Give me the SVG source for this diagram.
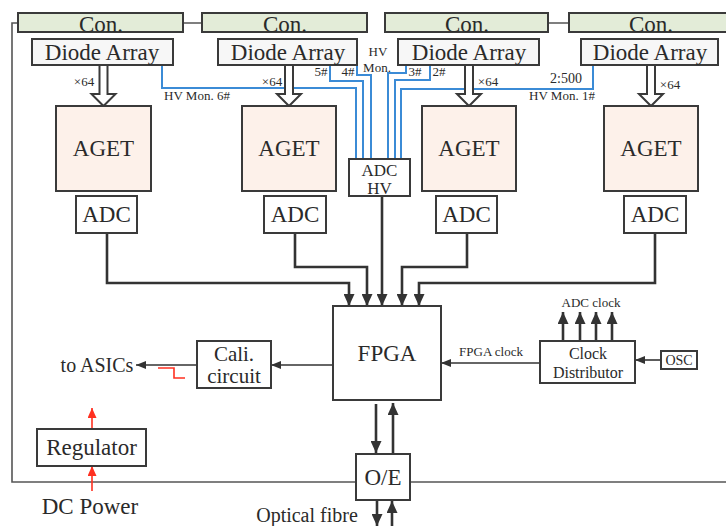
<svg xmlns="http://www.w3.org/2000/svg" width="726" height="526" viewBox="0 0 726 526" font-family="Liberation Serif, Times New Roman, DejaVu Serif, serif">
<style>
text{font-family:"Liberation Serif","Times New Roman","DejaVu Serif",serif;fill:#2a2a2a;text-anchor:middle}
.con{fill:#e3ecd8;stroke:#3a3a3a;stroke-width:2}
.dio{fill:#f7f7f7;stroke:#3a3a3a;stroke-width:2}
.aget{fill:#fdf1ea;stroke:#3a3a3a;stroke-width:2}
.box{fill:#ffffff;stroke:#3a3a3a;stroke-width:2}
.hol{fill:#ffffff;stroke:#3a3a3a;stroke-width:2;stroke-linejoin:miter}
.blue{fill:none;stroke:#3b8bd6;stroke-width:2}
.thick{fill:none;stroke:#333;stroke-width:2.6}
.thin{fill:none;stroke:#333;stroke-width:1.6}
.gray{fill:none;stroke:#555;stroke-width:1.6}
.red{fill:none;stroke:#ff3020;stroke-width:1.6}
.t23{font-size:23px}.t13{font-size:13px}
</style>
<defs>
<marker id="ab" markerUnits="userSpaceOnUse" markerWidth="12" markerHeight="11" refX="12" refY="5.5" orient="auto"><path d="M0,0 L12,5.5 L0,11 z" fill="#333"/></marker>
<marker id="as" markerUnits="userSpaceOnUse" markerWidth="10" markerHeight="8" refX="10" refY="4" orient="auto"><path d="M0,0 L10,4 L0,8 z" fill="#333"/></marker>
<marker id="ar" markerUnits="userSpaceOnUse" markerWidth="10" markerHeight="9" refX="10" refY="4.5" orient="auto"><path d="M0,0 L10,4.5 L0,9 z" fill="#ff3020"/></marker>
</defs>
<rect width="726" height="526" fill="#ffffff"/>

<g id="connectors">
<path class="gray" d="M18,23 H12 V482 H356"/>
<path class="gray" d="M410,482 H730"/>
<path class="gray" d="M183,23 H202 M548,23 H569"/>
<path class="blue" d="M162,65 V88 H356 V159"/>
<path class="blue" d="M330,65 V81 H363 V159"/>
<path class="blue" d="M357,57 V75 H371 V159"/>
<path class="blue" d="M406,57 V73 H388 V159"/>
<path class="blue" d="M430,65 V80 H395 V159"/>
<path class="blue" d="M593,65 V89 H401 V159"/>
<path class="thick" d="M107,233 V283 H349 V306" marker-end="url(#ab)"/>
<path class="thick" d="M295,233 V267 H367 V306" marker-end="url(#ab)"/>
<path class="thick" d="M382,196 V306" marker-end="url(#ab)"/>
<path class="thick" d="M467,233 V267 H402 V306" marker-end="url(#ab)"/>
<path class="thick" d="M655,233 V283 H419 V306" marker-end="url(#ab)"/>
<path class="thick" d="M376,404 V453" marker-end="url(#ab)"/>
<path class="thick" d="M393,453 V403" marker-end="url(#ab)"/>
<path class="thick" d="M377,500 V526" marker-end="url(#ab)"/>
<path class="thick" d="M392,526 V501" marker-end="url(#ab)"/>
<path class="thin" d="M540,363 H441" marker-end="url(#as)"/>
<path class="thin" d="M661,360 H635" marker-end="url(#as)"/>
<path class="thick" d="M563,341 V312" marker-end="url(#ab)"/>
<path class="thick" d="M580,341 V312" marker-end="url(#ab)"/>
<path class="thick" d="M596,341 V312" marker-end="url(#ab)"/>
<path class="thick" d="M612,341 V312" marker-end="url(#ab)"/>
<path class="thin" d="M333,365 H271" marker-end="url(#as)"/>
<path class="thin" d="M197,365 H136" marker-end="url(#as)"/>
<path class="red" d="M158,368 H174 V378 H185"/>
<path class="red" d="M92,491 V466" marker-end="url(#ar)"/>
<path class="red" d="M92,429 V408" marker-end="url(#ar)"/>
</g>

<g id="con1"><rect class="con" x="18" y="13" width="165" height="19"/><text class="t23" x="101" y="32">Con.</text></g>
<g id="con2"><rect class="con" x="202" y="13" width="165" height="19"/><text class="t23" x="285" y="32">Con.</text></g>
<g id="con3"><rect class="con" x="385" y="13" width="163" height="19"/><text class="t23" x="467" y="32">Con.</text></g>
<g id="con4"><rect class="con" x="569" y="13" width="165" height="19"/><text class="t23" x="651" y="32">Con.</text></g>

<g id="diode1"><rect class="dio" x="32" y="39" width="141" height="26"/><text class="t23" x="102" y="60">Diode Array</text></g>
<g id="diode2"><rect class="dio" x="218" y="39" width="139" height="26"/><text class="t23" x="288" y="60">Diode Array</text></g>
<g id="diode3"><rect class="dio" x="398" y="39" width="141" height="26"/><text class="t23" x="469" y="60">Diode Array</text></g>
<g id="diode4"><rect class="dio" x="581" y="39" width="137" height="26"/><text class="t23" x="650" y="60">Diode Array</text></g>

<g id="bus1"><path class="hol" d="M99.5,66 V94 H91.5 L103.5,106 L115.5,94 H107.5 V66"/><text class="t13" x="84" y="86">×64</text></g>
<g id="bus2"><path class="hol" d="M285,66 V94 H277 L289,106 L301,94 H293 V66"/><text class="t13" x="272" y="86">×64</text></g>
<g id="bus3"><path class="hol" d="M465,66 V94 H457 L469,106 L481,94 H473 V66"/><text class="t13" x="488" y="86">×64</text></g>
<g id="bus4"><path class="hol" d="M647,66 V94 H639 L651,106 L663,94 H655 V66"/><text class="t13" x="670" y="89">×64</text></g>

<g id="hvlabels">
<text class="t13" x="197" y="100">HV Mon. 6#</text>
<text class="t13" x="321" y="76">5#</text>
<text class="t13" x="348" y="76">4#</text>
<text class="t13" x="378" y="56">HV</text>
<text class="t13" x="377" y="72">Mon.</text>
<text class="t13" x="415" y="76">3#</text>
<text class="t13" x="439" y="76">2#</text>
<text x="566" y="83" font-size="14">2:500</text>
<text class="t13" x="562" y="100">HV Mon. 1#</text>
</g>

<g id="aget1"><rect class="aget" x="56" y="106" width="95" height="85"/><text class="t23" x="103.5" y="156">AGET</text></g>
<g id="aget2"><rect class="aget" x="242" y="106" width="94" height="85"/><text class="t23" x="289" y="156">AGET</text></g>
<g id="aget3"><rect class="aget" x="422" y="106" width="94" height="85"/><text class="t23" x="469" y="156">AGET</text></g>
<g id="aget4"><rect class="aget" x="604" y="106" width="94" height="85"/><text class="t23" x="651" y="156">AGET</text></g>

<g id="adc1"><rect class="box" x="76" y="196" width="61" height="37"/><text class="t23" x="106.5" y="222">ADC</text></g>
<g id="adc2"><rect class="box" x="264" y="196" width="62" height="37"/><text class="t23" x="295" y="222">ADC</text></g>
<g id="adc3"><rect class="box" x="436" y="196" width="61" height="37"/><text class="t23" x="466.5" y="222">ADC</text></g>
<g id="adc4"><rect class="box" x="624" y="196" width="62" height="37"/><text class="t23" x="655" y="222">ADC</text></g>

<g id="adchv"><rect class="box" x="349" y="159" width="61" height="37" stroke-width="1.6"/><text x="379.5" y="176" font-size="17">ADC</text><text x="379.5" y="194" font-size="17">HV</text></g>

<g id="fpga"><rect class="box" x="333" y="306" width="108" height="94"/><text class="t23" x="387" y="361">FPGA</text></g>
<g id="clockdist"><rect class="box" x="540" y="341" width="95" height="42"/><text x="588" y="359" font-size="16">Clock</text><text x="588" y="378" font-size="16">Distributor</text></g>
<g id="osc"><rect class="box" x="661" y="351" width="36" height="18" stroke-width="1.6"/><text x="679" y="365" font-size="14">OSC</text></g>
<g id="cali"><rect class="box" x="197" y="341" width="74" height="47"/><text x="234" y="361" font-size="21">Cali.</text><text x="234" y="383" font-size="21">circuit</text></g>
<g id="regulator"><rect class="box" x="37" y="429" width="109" height="37"/><text class="t23" x="91.5" y="455">Regulator</text></g>
<g id="oe"><rect class="box" x="356" y="454" width="54" height="46"/><text class="t23" x="383" y="485">O/E</text></g>

<g id="labels">
<text class="t13" x="591" y="307">ADC clock</text>
<text class="t13" x="491" y="356">FPGA clock</text>
<text x="97" y="372" font-size="20">to ASICs</text>
<text class="t23" x="90" y="514">DC Power</text>
<text x="307" y="522" font-size="20">Optical fibre</text>
</g>
</svg>
